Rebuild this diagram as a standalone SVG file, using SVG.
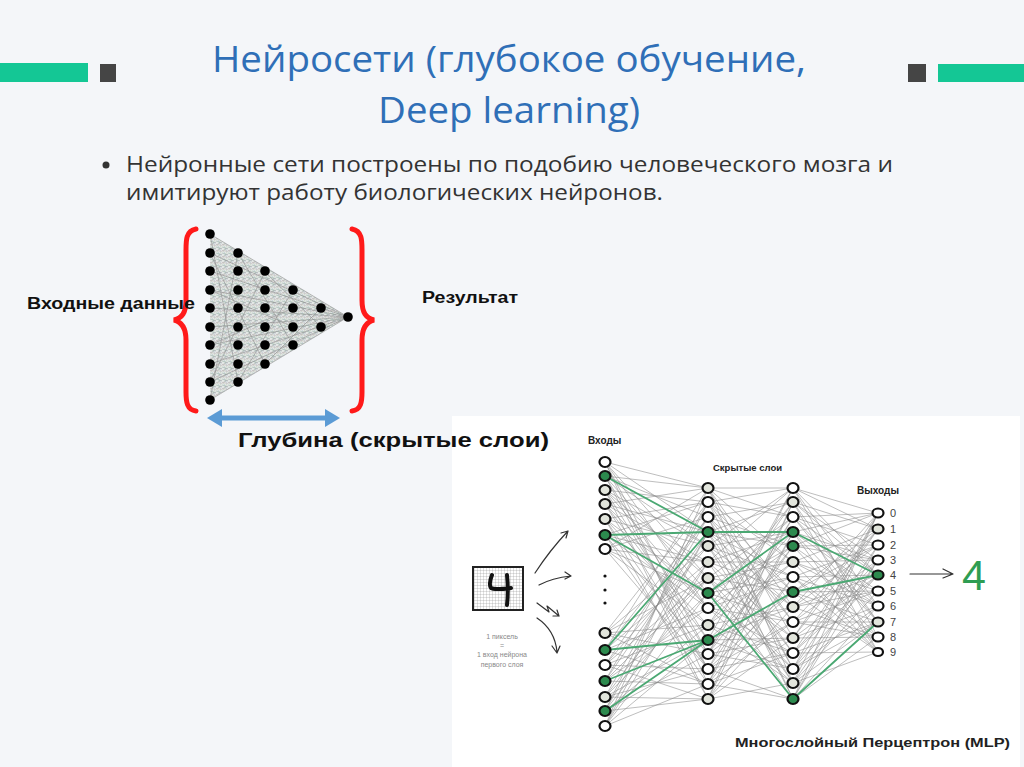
<svg xmlns="http://www.w3.org/2000/svg" width="1024" height="767" viewBox="0 0 1024 767">
<style>
.title{font-family:"Open Sans","Liberation Sans",sans-serif;font-size:36px;fill:#2f6fb7;text-anchor:middle}
.body{font-family:"Open Sans","Liberation Sans",sans-serif;font-size:22px;fill:#333}
.lbl{font-family:"Liberation Sans",Arial,sans-serif;font-weight:bold;fill:#111}
.sk{font-family:"Liberation Sans",Arial,sans-serif;font-weight:bold;fill:#222}
.dig{font-family:"Liberation Sans",Arial,sans-serif;font-size:11px;fill:#444}
.tiny{font-family:"Liberation Sans",Arial,sans-serif;font-size:7px;fill:#888;text-anchor:middle}
.n{stroke:#111;stroke-width:2.2}
.w{fill:#fff}.g{fill:#e2e5dc}.gr{fill:#2c8a4e}
.dot{fill:#000}
.gray{stroke:#8a8a8a;stroke-width:0.8;stroke-opacity:0.7;fill:none}
.green{stroke:#4aa872;stroke-width:1.8;fill:none}
.ar{stroke:#333;stroke-width:1.2;fill:none;stroke-linecap:round;stroke-linejoin:round}
</style>
<defs>
<pattern id="mesh" width="6" height="6" patternUnits="userSpaceOnUse">
<rect width="6" height="6" fill="#e4e8e6"/>
<path d="M0 1L6 3" stroke="#7fa090" stroke-width="0.6" stroke-opacity="0.7"/>
<path d="M0 5L6 2" stroke="#a38bb4" stroke-width="0.6" stroke-opacity="0.6"/>
<path d="M2 0L5 6" stroke="#8fa4b9" stroke-width="0.6" stroke-opacity="0.6"/>
<path d="M0 4.5L6 5.5" stroke="#b79999" stroke-width="0.5" stroke-opacity="0.6"/>
<path d="M5 0L1 6" stroke="#97b78a" stroke-width="0.5" stroke-opacity="0.6"/>
</pattern>
<pattern id="grid" width="3" height="3" patternUnits="userSpaceOnUse">
<rect width="3" height="3" fill="#fff"/>
<path d="M0 0H3M0 0V3" stroke="#888" stroke-width="0.5"/>
</pattern>
</defs>
<rect width="1024" height="767" fill="#f4f6f9"/>

<g id="decor">
<rect x="0" y="63" width="88" height="19" fill="#14c795"/>
<rect x="100" y="64" width="16" height="18" fill="#454545"/>
<rect x="908" y="64" width="18" height="18" fill="#454545"/>
<rect x="938" y="64" width="86" height="18" fill="#14c795"/>
</g>

<g id="title">
<text class="title" x="509" y="72" textLength="594" lengthAdjust="spacingAndGlyphs">Нейросети (глубокое обучение,</text>
<text class="title" x="509" y="123" textLength="262" lengthAdjust="spacingAndGlyphs">Deep learning)</text>
</g>

<g id="bullet">
<circle cx="106" cy="165" r="3.5" fill="#333"/>
<text class="body" x="126" y="172" textLength="767" lengthAdjust="spacingAndGlyphs">Нейронные сети построены по подобию человеческого мозга и</text>
<text class="body" x="126" y="200" textLength="537" lengthAdjust="spacingAndGlyphs">имитируют работу биологических нейронов.</text>
</g>

<g id="triangle-net">
<polygon points="210,234 348,317 210,400" fill="url(#mesh)"/>
<path class="gray" stroke-width="0.4" d="M210 234 348 317M210 253 348 317M210 271 348 317M210 290 348 317M210 308 348 317M210 327 348 317M210 345 348 317M210 364 348 317M210 382 348 317M210 400 348 317M210 234 238 382M210 400 238 253M210 253 265 364M210 382 265 272M238 253 293 345M238 382 293 290M265 272 321 327M265 364 321 308M210 290 293 327M210 345 293 308"/>
<g class="dot">
<circle cx="210" cy="234" r="4.8"/><circle cx="210" cy="253" r="4.8"/><circle cx="210" cy="271" r="4.8"/><circle cx="210" cy="290" r="4.8"/><circle cx="210" cy="308" r="4.8"/><circle cx="210" cy="327" r="4.8"/><circle cx="210" cy="345" r="4.8"/><circle cx="210" cy="364" r="4.8"/><circle cx="210" cy="382" r="4.8"/><circle cx="210" cy="400" r="4.8"/>
<circle cx="238" cy="253" r="4.8"/><circle cx="238" cy="271" r="4.8"/><circle cx="238" cy="290" r="4.8"/><circle cx="238" cy="308" r="4.8"/><circle cx="238" cy="327" r="4.8"/><circle cx="238" cy="345" r="4.8"/><circle cx="238" cy="364" r="4.8"/><circle cx="238" cy="382" r="4.8"/>
<circle cx="265" cy="271" r="4.8"/><circle cx="265" cy="290" r="4.8"/><circle cx="265" cy="308" r="4.8"/><circle cx="265" cy="327" r="4.8"/><circle cx="265" cy="345" r="4.8"/><circle cx="265" cy="364" r="4.8"/>
<circle cx="293" cy="290" r="4.8"/><circle cx="293" cy="308" r="4.8"/><circle cx="293" cy="327" r="4.8"/><circle cx="293" cy="345" r="4.8"/>
<circle cx="321" cy="308" r="4.8"/><circle cx="321" cy="327" r="4.8"/>
<circle cx="348" cy="317" r="4.8"/>
</g>
</g>

<g id="braces" fill="none" stroke="#ff1a1a" stroke-width="5" stroke-linecap="round">
<path d="M196 229C186 231 186 240 186 250L186 300C186 313 182 318 174 320C182 322 186 328 186 340L186 392C186 402 187 410 196 411"/>
<path d="M352 229C362 231 362 240 362 250L362 300C362 313 366 318 374 320C366 322 362 328 362 340L362 392C362 402 361 410 352 411"/>
</g>

<g id="depth-arrow">
<line x1="220" y1="418" x2="327" y2="418" stroke="#5b9bd5" stroke-width="5"/>
<polygon points="207,418 222,409 222,427" fill="#5b9bd5"/>
<polygon points="340,418 325,409 325,427" fill="#5b9bd5"/>
</g>

<g id="mlp">
<rect x="452" y="416" width="568" height="351" fill="#fff"/>

<g id="connectors">
<path class="gray" d="M605 462 708 488M605 462 708 532M605 462 708 578M605 462 708 608M605 462 708 654M605 462 708 684M605 476 708 546M605 476 708 593M605 476 708 640M605 476 708 669M605 476 708 488M605 476 708 517M605 490 708 608M605 490 708 654M605 490 708 699M605 490 708 502M605 490 708 546M605 490 708 578M605 504 708 669M605 504 708 488M605 504 708 532M605 504 708 562M605 504 708 608M605 504 708 640M605 519 708 502M605 519 708 546M605 519 708 593M605 519 708 625M605 519 708 669M605 519 708 699M605 535 708 562M605 535 708 608M605 535 708 654M605 535 708 684M605 535 708 502M605 549 708 625M605 549 708 669M605 549 708 488M605 549 708 517M605 549 708 562M605 549 708 593M605 633 708 684M605 633 708 502M605 633 708 546M605 633 708 578M605 633 708 625M605 633 708 654M605 650 708 517M605 650 708 562M605 650 708 608M605 650 708 684M605 650 708 488M605 665 708 578M605 665 708 625M605 665 708 669M605 665 708 699M605 665 708 517M605 665 708 546M605 681 708 684M605 681 708 502M605 681 708 532M605 681 708 578M605 681 708 608M605 697 708 699M605 697 708 517M605 697 708 562M605 697 708 593M605 697 708 640M605 697 708 669M605 711 708 532M605 711 708 578M605 711 708 625M605 711 708 654M605 711 708 699M605 711 708 502M605 726 708 593M605 726 708 640M605 726 708 684M605 726 708 488M605 726 708 532M605 726 708 562"/>
<path class="gray" d="M708 488 793 488M708 488 793 517M708 488 793 562M708 488 793 607M708 488 793 638M708 488 793 683M708 502 793 592M708 502 793 622M708 502 793 669M708 502 793 488M708 502 793 517M708 502 793 562M708 517 793 699M708 517 793 502M708 517 793 546M708 517 793 592M708 517 793 622M708 517 793 669M708 532 793 577M708 532 793 607M708 532 793 653M708 532 793 699M708 532 793 502M708 532 793 546M708 546 793 683M708 546 793 488M708 546 793 532M708 546 793 577M708 546 793 607M708 546 793 653M708 562 793 562M708 562 793 592M708 562 793 638M708 562 793 683M708 562 793 488M708 562 793 532M708 578 793 669M708 578 793 699M708 578 793 517M708 578 793 562M708 578 793 592M708 578 793 638M708 593 793 546M708 593 793 577M708 593 793 622M708 593 793 669M708 593 793 517M708 608 793 653M708 608 793 683M708 608 793 502M708 608 793 546M708 608 793 577M708 608 793 622M708 625 793 532M708 625 793 562M708 625 793 607M708 625 793 653M708 625 793 683M708 625 793 502M708 640 793 638M708 640 793 669M708 640 793 488M708 640 793 562M708 640 793 607M708 654 793 517M708 654 793 546M708 654 793 592M708 654 793 638M708 654 793 669M708 654 793 488M708 669 793 622M708 669 793 653M708 669 793 699M708 669 793 517M708 669 793 546M708 669 793 592M708 684 793 502M708 684 793 532M708 684 793 577M708 684 793 622M708 684 793 653M708 684 793 699M708 699 793 607M708 699 793 638M708 699 793 683M708 699 793 502M708 699 793 532M708 699 793 577"/>
<path class="gray" d="M793 488 878 513M793 488 878 529M793 488 878 575M793 488 878 606M793 488 878 637M793 502 878 560M793 502 878 575M793 502 878 622M793 502 878 652M793 502 878 529M793 517 878 606M793 517 878 622M793 517 878 513M793 517 878 545M793 517 878 575M793 532 878 652M793 532 878 513M793 532 878 560M793 532 878 591M793 532 878 622M793 546 878 545M793 546 878 560M793 546 878 606M793 546 878 637M793 546 878 513M793 562 878 591M793 562 878 606M793 562 878 652M793 562 878 529M793 562 878 560M793 577 878 637M793 577 878 652M793 577 878 545M793 577 878 575M793 577 878 606M793 592 878 529M793 592 878 545M793 592 878 591M793 592 878 622M793 592 878 652M793 607 878 575M793 607 878 591M793 607 878 637M793 607 878 513M793 607 878 545M793 622 878 622M793 622 878 637M793 622 878 529M793 622 878 560M793 622 878 591M793 638 878 513M793 638 878 529M793 638 878 575M793 638 878 606M793 638 878 637M793 653 878 560M793 653 878 575M793 653 878 622M793 653 878 652M793 653 878 529M793 669 878 606M793 669 878 622M793 669 878 513M793 669 878 545M793 669 878 575M793 683 878 652M793 683 878 513M793 683 878 560M793 683 878 591M793 683 878 622M793 699 878 545M793 699 878 560M793 699 878 606M793 699 878 637M793 699 878 513"/>
<path class="green" d="M605 476 708 532M605 535 708 532M605 535 708 593M605 650 708 532M605 650 708 640M605 681 708 640M605 711 708 640M708 532 793 532M708 593 793 532M708 640 793 592M708 593 793 699M793 532 878 575M793 592 878 575M793 699 878 622"/>
</g>

<g id="layer-in">
<ellipse class="n w" cx="605" cy="462" rx="5.5" ry="5"/>
<ellipse class="n gr" cx="605" cy="476" rx="5.5" ry="5"/>
<ellipse class="n g" cx="605" cy="490" rx="5.5" ry="5"/>
<ellipse class="n g" cx="605" cy="504" rx="5.5" ry="5"/>
<ellipse class="n g" cx="605" cy="519" rx="5.5" ry="5"/>
<ellipse class="n gr" cx="605" cy="535" rx="5.5" ry="5"/>
<ellipse class="n w" cx="605" cy="549" rx="5.5" ry="5"/>
<circle cx="605" cy="576" r="1.6" fill="#111"/>
<circle cx="605" cy="590" r="1.6" fill="#111"/>
<circle cx="605" cy="603" r="1.6" fill="#111"/>
<ellipse class="n g" cx="605" cy="633" rx="5.5" ry="5"/>
<ellipse class="n gr" cx="605" cy="650" rx="5.5" ry="5"/>
<ellipse class="n w" cx="605" cy="665" rx="5.5" ry="5"/>
<ellipse class="n gr" cx="605" cy="681" rx="5.5" ry="5"/>
<ellipse class="n g" cx="605" cy="697" rx="5.5" ry="5"/>
<ellipse class="n gr" cx="605" cy="711" rx="5.5" ry="5"/>
<ellipse class="n w" cx="605" cy="726" rx="5.5" ry="5"/>
</g>

<g id="layer-h1">
<ellipse class="n g" cx="708" cy="488" rx="5.5" ry="5"/>
<ellipse class="n w" cx="708" cy="502" rx="5.5" ry="5"/>
<ellipse class="n w" cx="708" cy="517" rx="5.5" ry="5"/>
<ellipse class="n gr" cx="708" cy="532" rx="5.5" ry="5"/>
<ellipse class="n g" cx="708" cy="546" rx="5.5" ry="5"/>
<ellipse class="n g" cx="708" cy="562" rx="5.5" ry="5"/>
<ellipse class="n g" cx="708" cy="578" rx="5.5" ry="5"/>
<ellipse class="n gr" cx="708" cy="593" rx="5.5" ry="5"/>
<ellipse class="n w" cx="708" cy="608" rx="5.5" ry="5"/>
<ellipse class="n g" cx="708" cy="625" rx="5.5" ry="5"/>
<ellipse class="n gr" cx="708" cy="640" rx="5.5" ry="5"/>
<ellipse class="n w" cx="708" cy="654" rx="5.5" ry="5"/>
<ellipse class="n w" cx="708" cy="669" rx="5.5" ry="5"/>
<ellipse class="n w" cx="708" cy="684" rx="5.5" ry="5"/>
<ellipse class="n g" cx="708" cy="699" rx="5.5" ry="5"/>
</g>

<g id="layer-h2">
<ellipse class="n w" cx="793" cy="488" rx="5.5" ry="5"/>
<ellipse class="n g" cx="793" cy="502" rx="5.5" ry="5"/>
<ellipse class="n w" cx="793" cy="517" rx="5.5" ry="5"/>
<ellipse class="n gr" cx="793" cy="532" rx="5.5" ry="5"/>
<ellipse class="n gr" cx="793" cy="546" rx="5.5" ry="5"/>
<ellipse class="n g" cx="793" cy="562" rx="5.5" ry="5"/>
<ellipse class="n w" cx="793" cy="577" rx="5.5" ry="5"/>
<ellipse class="n gr" cx="793" cy="592" rx="5.5" ry="5"/>
<ellipse class="n g" cx="793" cy="607" rx="5.5" ry="5"/>
<ellipse class="n w" cx="793" cy="622" rx="5.5" ry="5"/>
<ellipse class="n g" cx="793" cy="638" rx="5.5" ry="5"/>
<ellipse class="n w" cx="793" cy="653" rx="5.5" ry="5"/>
<ellipse class="n w" cx="793" cy="669" rx="5.5" ry="5"/>
<ellipse class="n g" cx="793" cy="683" rx="5.5" ry="5"/>
<ellipse class="n gr" cx="793" cy="699" rx="5.5" ry="5"/>
</g>

<g id="layer-out">
<ellipse class="n w" cx="878" cy="513" rx="5.5" ry="4.5"/>
<ellipse class="n g" cx="878" cy="529" rx="5.5" ry="4.5"/>
<ellipse class="n w" cx="878" cy="545" rx="5.5" ry="4.5"/>
<ellipse class="n w" cx="878" cy="560" rx="5.5" ry="4.5"/>
<ellipse class="n gr" cx="878" cy="575" rx="5.5" ry="4.5"/>
<ellipse class="n w" cx="878" cy="591" rx="5.5" ry="4.5"/>
<ellipse class="n w" cx="878" cy="606" rx="5.5" ry="4.5"/>
<ellipse class="n g" cx="878" cy="622" rx="5.5" ry="4.5"/>
<ellipse class="n w" cx="878" cy="637" rx="5.5" ry="4.5"/>
<ellipse class="n w" cx="878" cy="652" rx="5" ry="4"/>
<text class="dig" x="890" y="517">0</text>
<text class="dig" x="890" y="533">1</text>
<text class="dig" x="890" y="549">2</text>
<text class="dig" x="890" y="564">3</text>
<text class="dig" x="890" y="579">4</text>
<text class="dig" x="890" y="595">5</text>
<text class="dig" x="890" y="610">6</text>
<text class="dig" x="890" y="626">7</text>
<text class="dig" x="890" y="641">8</text>
<text class="dig" x="890" y="656">9</text>
</g>

<g id="mlp-labels">
<text class="sk" x="588" y="444" font-size="10">Входы</text>
<text class="sk" x="713" y="471" font-size="9.5">Скрытые слои</text>
<text class="sk" x="857" y="494" font-size="10">Выходы</text>
<text class="sk" x="735" y="747" font-size="13" textLength="275" lengthAdjust="spacingAndGlyphs">Многослойный Перцептрон (MLP)</text>
</g>

<g id="result">
<path class="ar" d="M910 574H952M943 569L953 574L943 578"/>
<text x="962" y="590" font-family="Liberation Sans,Arial,sans-serif" font-size="43" fill="#2f9d52">4</text>
</g>

<g id="digit-box">
<rect x="473" y="567" width="50" height="43" fill="url(#grid)" stroke="#222" stroke-width="2"/>
<path d="M492 575C490 580 489 585 491 588C494 590 503 589 511 588M507 575C508 585 508 596 507 605" fill="none" stroke="#111" stroke-width="4" stroke-linecap="round" stroke-linejoin="round"/>
<text class="tiny" x="502" y="639">1 пиксель</text>
<text class="tiny" x="502" y="648">=</text>
<text class="tiny" x="502" y="657">1 вход нейрона</text>
<text class="tiny" x="502" y="667">первого слоя</text>
</g>

<g id="input-arrows">
<path class="ar" d="M535 573Q550 550 568 531M561 533L568 531L566 538"/>
<path class="ar" d="M539 585Q552 578 571 576M565 572L571 576L565 579"/>
<path class="ar" d="M537 603L549 612L547 606L559 616M553 616L559 616L557 610"/>
<path class="ar" d="M537 618Q555 630 557 652M552 646L557 653L560 646"/>
</g>
</g>

<g id="labels">
<text class="lbl" x="27" y="309" font-size="16" textLength="168" lengthAdjust="spacingAndGlyphs">Входные данные</text>
<text class="lbl" x="422" y="303" font-size="16" textLength="96" lengthAdjust="spacingAndGlyphs">Результат</text>
<text class="lbl" x="238" y="447" font-size="21" textLength="311" lengthAdjust="spacingAndGlyphs">Глубина (скрытые слои)</text>
</g>
</svg>
